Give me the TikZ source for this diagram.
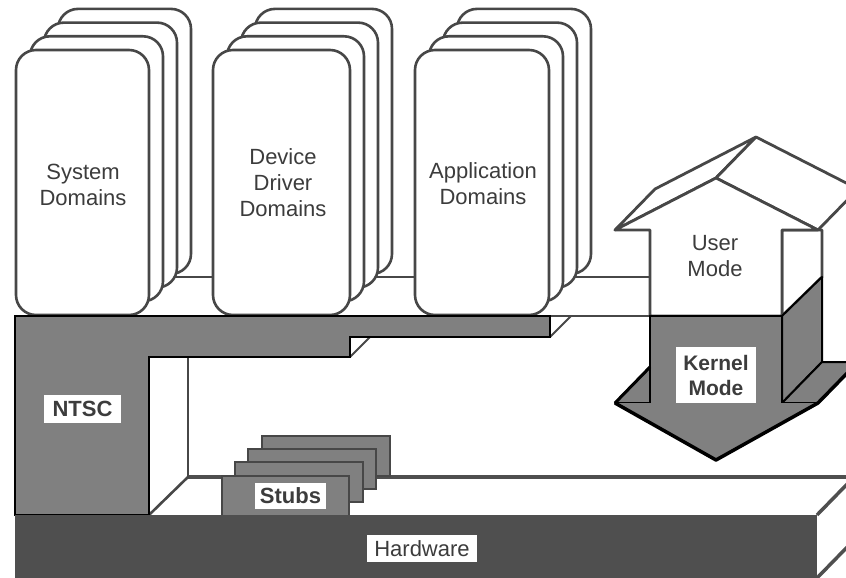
\documentclass[tikz,border=0pt]{standalone}
\usepackage{fontspec}
\setmainfont{Liberation Sans}
\definecolor{facegray}{HTML}{808080}
\definecolor{darkslab}{HTML}{4F4F4F}
\definecolor{linegray}{HTML}{474747}
\definecolor{textgray}{HTML}{3C3C3C}
\newcommand{\domstack}[2]{% left edge, width of the front card
  \foreach \k in {3,2,1,0}
    \draw[card] ({#1+14*\k},{50-13.7*\k}) rectangle ++(#2,265);}
\begin{document}
\begin{tikzpicture}[x=1pt,y=-1pt,
  card/.style={draw=linegray,line width=2.6pt,fill=white,rounded corners=20pt},
  wall/.style={draw=linegray,line width=2pt},
  slab/.style={draw=black,line width=2.4pt,fill=facegray,line join=miter},
  stub/.style={draw=linegray,line width=2pt,fill=facegray},
  upface/.style={draw=linegray,line width=2.8pt,fill=white,line join=round},
  downface/.style={draw=black,line width=2pt,fill=facegray,line join=round},
  lbl/.style={font=\fontsize{22}{26}\selectfont,text=textgray,align=center,inner sep=0pt},
  tag/.style={fill=white,text=textgray,font=\fontsize{22}{26}\selectfont\bfseries,align=center,inner sep=0pt},
]
\useasboundingbox (0,0) rectangle (846,578);
\clip (0,0) rectangle (846,578);

% back wall, floor and depth edges
\draw[wall] (150,277) -- (650,277);
\draw[wall] (550,316) -- (650,316);
\draw[wall] (188,357) -- (188,477);
\draw[draw=darkslab,line width=3.5pt] (188,477) -- (860,477);
\draw[wall,line width=2.6pt] (149,515) -- (189,476);
\draw[wall] (550,337) -- (571,316);
\draw[wall] (350,357) -- (370,337);

% domain card stacks
\domstack{16}{133}
\domstack{213}{137}
\domstack{415}{134}

% NTSC slab
\draw[slab] (15,316) -- (550,316) -- (550,337) -- (350,337) -- (350,357)
  -- (149,357) -- (149,515) -- (15,515) -- cycle;

% stubs, back to front
\draw[stub] (262,436) rectangle (390,476);
\draw[stub] (248,449) rectangle (376,489);
\draw[stub] (235,462) rectangle (363,502);
\draw[stub] (222,476) rectangle (349,516);

% hardware slab with its right side face
\fill[darkslab] (15,515) rectangle (817,590);
\draw[draw=darkslab,line width=3.5pt] (817,515) -- (857,474);
\draw[draw=darkslab,line width=3.5pt] (817,578) -- (857,537);

% mode arrow: upper part (user) in white
\draw[upface] (615,230) -- (716,178) -- (756,137) -- (655,189) -- cycle;
\draw[upface] (716,178) -- (818,230) -- (858,189) -- (756,137) -- cycle;
\draw[upface] (782,230) -- (822,230) -- (822,277) -- (782,316) -- cycle;
\draw[upface] (650,316) -- (650,230) -- (615,230) -- (716,178) -- (818,230)
  -- (782,230) -- (782,316) -- cycle;

% mode arrow: lower part (kernel) in gray
\draw[downface] (782,316) -- (822,277) -- (822,362) -- (782,403) -- cycle;
\draw[downface] (782,403) -- (818,403) -- (858,362) -- (822,362) -- cycle;
\draw[downface] (615,403) -- (650,403) -- (650,367) -- cycle;
\fill[facegray] (650,316) -- (782,316) -- (782,403) -- (818,403) -- (716,460)
  -- (615,403) -- (650,403) -- cycle;
\draw[black,line width=2pt] (650,403) -- (650,316) -- (782,316) -- (782,403);
\draw[black,line width=3.5pt,line join=round] (615,403) -- (716,460) -- (818,403) -- (858,362);
\draw[black,line width=3pt] (615,403) -- (650,367);

% labels
\node[lbl] (sysdom) at (83,185) {System\\Domains};
\node[lbl] (devdom) at (283,183) {Device\\Driver\\Domains};
\node[lbl] (appdom) at (483,184) {Application\\Domains};
\node[lbl] (usermode) at (715,256) {User\\Mode};
\node[tag,minimum width=80pt,minimum height=56pt,font=\fontsize{21}{25}\selectfont\bfseries] (kernelmode) at (716,375) {Kernel\\Mode};
\node[tag,minimum width=77pt,minimum height=28pt] (ntsc) at (82.5,409) {NTSC};
\node[tag,minimum width=71pt,minimum height=26pt] (stubs) at (290.5,496) {Stubs};
\node[tag,minimum width=110pt,minimum height=27pt,font=\fontsize{22}{26}\selectfont] (hardware) at (422,548.5) {Hardware};
\end{tikzpicture}
\end{document}
